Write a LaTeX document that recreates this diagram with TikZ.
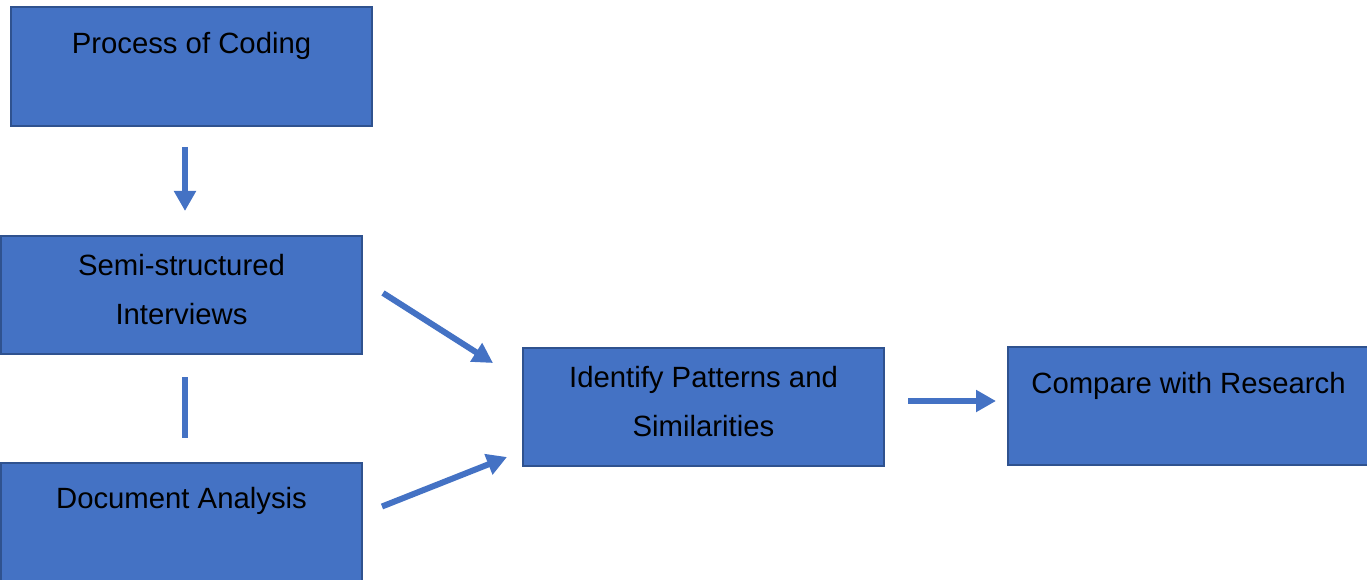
\documentclass[tikz,border=0pt]{standalone}
\usepackage{fontspec}
\setmainfont{Liberation Sans}
\usetikzlibrary{arrows.meta,calc}

\definecolor{boxfill}{HTML}{4472C4}
\definecolor{boxline}{HTML}{2F528F}

\tikzset{
  stepbox/.style={draw=boxline, fill=boxfill, line width=2pt, rectangle,
    anchor=north west, minimum width=361pt, minimum height=118pt, inner sep=0pt},
  boxtext/.style={anchor=north, inner sep=0pt, align=center,
    font=\fontsize{29.3}{49}\selectfont},
  flow/.style={draw=boxfill, line width=6pt, -{Triangle[length=20pt, width=21pt]}},
  joint/.style={draw=boxfill, line width=6pt},
}

\begin{document}
\begin{tikzpicture}[x=1pt, y=-1pt]
\useasboundingbox (0,0) rectangle (1367,580);

% boxes
\node[stepbox, minimum height=119pt] (coding) at (10,6) {};
\node[stepbox] (interviews) at (0,235) {};
\node[stepbox, minimum height=119pt] (docs) at (0,462) {};
\node[stepbox] (patterns) at (522,347) {};
\node[stepbox] (compare) at (1007,346) {};

% texts
\node[boxtext] (codingtext) at ($(coding.north)+(0,26)$) {Process of Coding};
\node[boxtext] (interviewstext) at ($(interviews.north)+(0,19)$) {Semi-structured\\Interviews};
\node[boxtext] (docstext) at ($(docs.north)+(0,25)$) {Document Analysis};
\node[boxtext] (patternstext) at ($(patterns.north)+(0,19)$) {Identify Patterns and\\Similarities};
\node[boxtext] (comparetext) at ($(compare.north)+(0,26)$) {Compare with Research};

% connector ends
\coordinate (c1) at ($(coding.south)+(-6.5,20)$);
\coordinate (c2) at ($(interviews.north)+(3.5,-24)$);
\coordinate (i1) at ($(interviews.east)+(20,-2)$);
\coordinate (i2) at ($(patterns.west)+(-29,-44)$);
\coordinate (i3) at ($(interviews.south)+(3.5,22)$);
\coordinate (d3) at ($(docs.north)+(3.5,-24)$);
\coordinate (d1) at ($(docs.east)+(19,-16)$);
\coordinate (d2) at ($(patterns.west)+(-15,50)$);
\coordinate (p1) at ($(patterns.east)+(23,-6)$);
\coordinate (p2) at ($(compare.west)+(-11,-5)$);

% connectors
\draw[flow] (c1) -- (c2);
\draw[flow] (i1) -- (i2);
\draw[joint] (i3) -- (d3);
\draw[flow] (d1) -- (d2);
\draw[flow] (p1) -- (p2);
\end{tikzpicture}
\end{document}
